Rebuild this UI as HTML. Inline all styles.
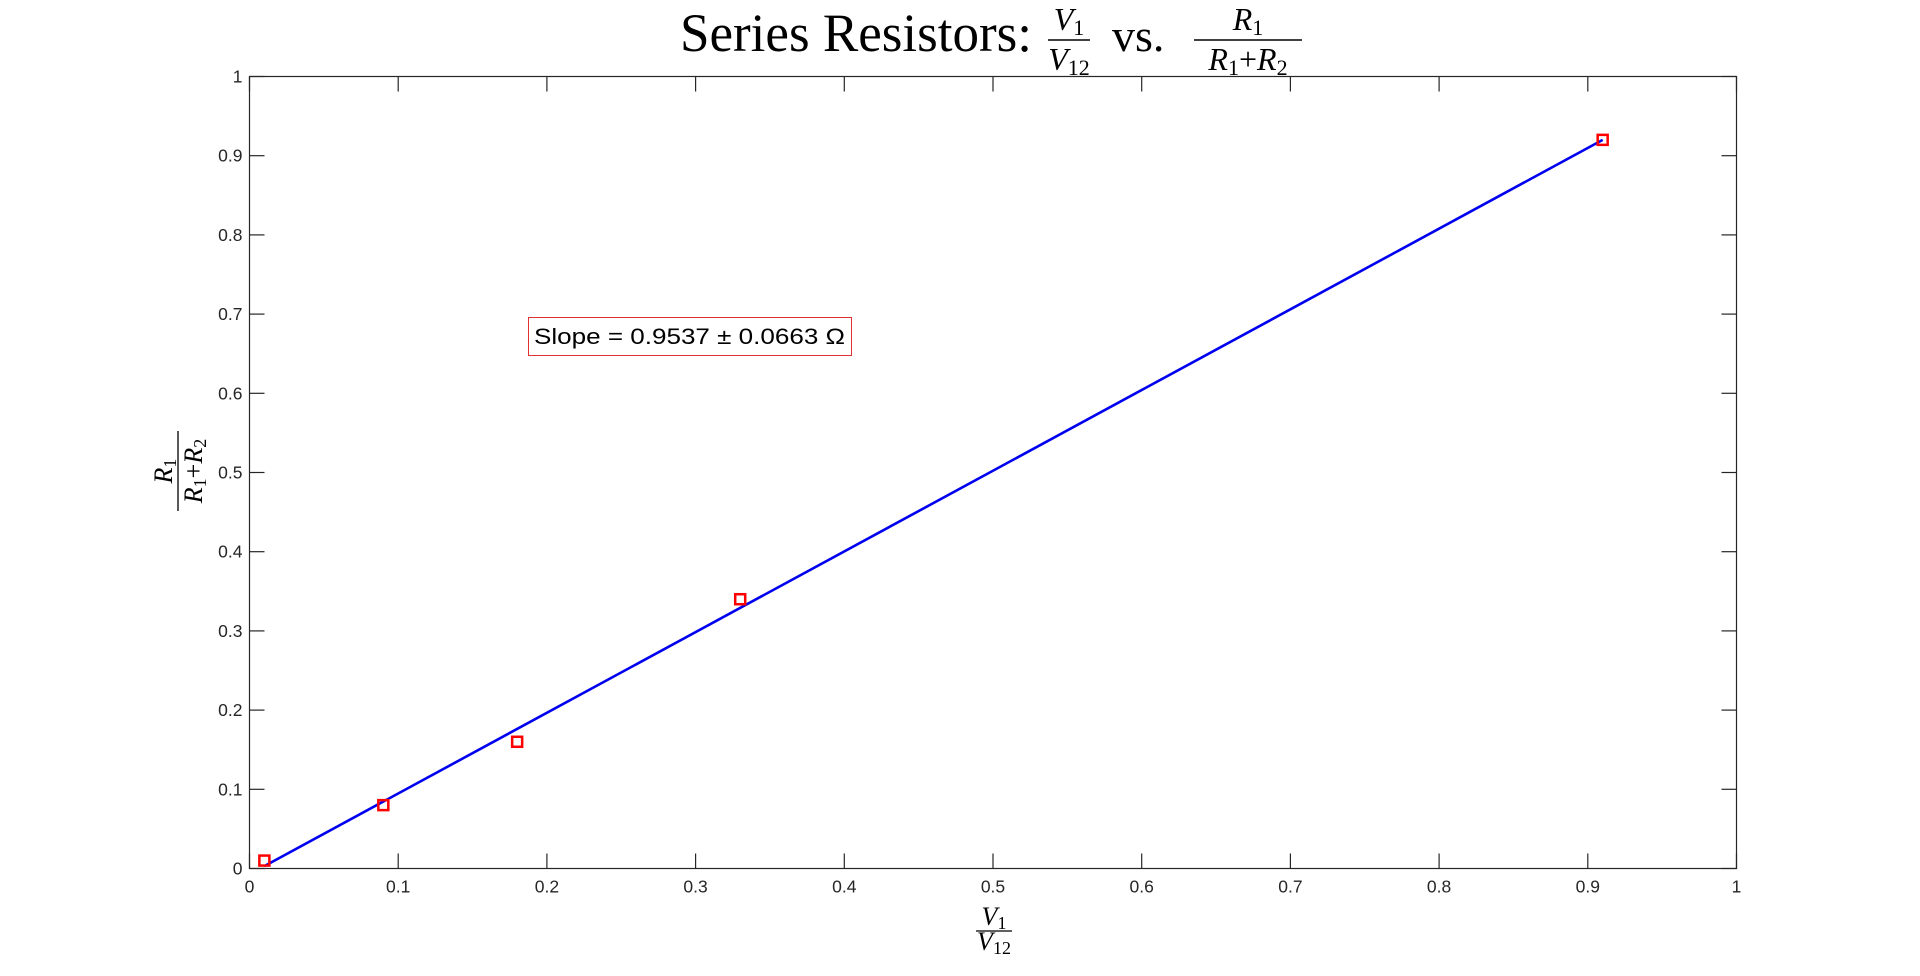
<!DOCTYPE html>
<html><head><meta charset="utf-8"><style>
html,body{margin:0;padding:0;background:#fff;}
svg{display:block;}
</style></head><body>
<svg id="chart" width="1920" height="976" xmlns="http://www.w3.org/2000/svg" font-family="Liberation Sans, sans-serif">
<rect width="1920" height="976" fill="#fff"/>
<g font-family="Liberation Serif, serif" fill="#000">
  <text x="680" y="51" font-size="54" textLength="352" lengthAdjust="spacingAndGlyphs">Series Resistors:</text>
  <text x="1069" y="30" font-size="32" text-anchor="middle" font-style="italic">V<tspan font-style="normal" font-size="22" dy="5">1</tspan></text>
  <line x1="1048" y1="40" x2="1090" y2="40" stroke="#000" stroke-width="1.5"/>
  <text x="1069" y="70" font-size="32" text-anchor="middle" font-style="italic">V<tspan font-style="normal" font-size="22" dy="5">12</tspan></text>
  <text x="1112" y="51" font-size="46">vs.</text>
  <text x="1248" y="30" font-size="32" text-anchor="middle" font-style="italic">R<tspan font-style="normal" font-size="22" dy="5">1</tspan></text>
  <line x1="1194" y1="40" x2="1302" y2="40" stroke="#000" stroke-width="1.5"/>
  <text x="1248" y="70" font-size="32" text-anchor="middle" font-style="italic">R<tspan font-style="normal" font-size="22" dy="5">1</tspan><tspan dy="-5" font-style="normal">+</tspan>R<tspan font-style="normal" font-size="22" dy="5">2</tspan></text>
</g>
<g font-family="Liberation Serif, serif" fill="#000">
  <text x="994" y="925" font-size="26" text-anchor="middle" font-style="italic">V<tspan font-style="normal" font-size="18" dy="4">1</tspan></text>
  <line x1="976" y1="931" x2="1012" y2="931" stroke="#000" stroke-width="1.3"/>
  <text x="994" y="950" font-size="26" text-anchor="middle" font-style="italic">V<tspan font-style="normal" font-size="18" dy="4">12</tspan></text>
</g>
<g font-family="Liberation Serif, serif" fill="#000" transform="translate(180,471) rotate(-90)">
  <text x="0" y="-8" font-size="26" text-anchor="middle" font-style="italic">R<tspan font-style="normal" font-size="18" dy="4">1</tspan></text>
  <line x1="-40" y1="-2" x2="40" y2="-2" stroke="#000" stroke-width="1.3"/>
  <text x="0" y="22" font-size="26" text-anchor="middle" font-style="italic">R<tspan font-style="normal" font-size="18" dy="4">1</tspan><tspan dy="-4" font-style="normal">+</tspan>R<tspan font-style="normal" font-size="18" dy="4">2</tspan></text>
</g>
<g id="axes"></g>
<g id="marks"></g>
<g>
  <rect x="528.5" y="317.5" width="323" height="38" fill="#fff" stroke="#e03030" stroke-width="1"/>
  <text x="534" y="344" font-size="22" fill="#000" textLength="311" lengthAdjust="spacingAndGlyphs">Slope = 0.9537 ± 0.0663 Ω</text>
</g>
</svg>
<script>
const xTicks = [0,0.1,0.2,0.3,0.4,0.5,0.6,0.7,0.8,0.9,1];
const yTicks = [0,0.1,0.2,0.3,0.4,0.5,0.6,0.7,0.8,0.9,1];
const tickLabels = ["0","0.1","0.2","0.3","0.4","0.5","0.6","0.7","0.8","0.9","1"];
const dataX = [0.01,0.09,0.18,0.33,0.91];
const dataY = [0.01,0.08,0.16,0.34,0.92];
const fitX = [0.01,0.91];
const fitY = [0.003,0.92];

const L=249.5,R=1736.5,T=76.5,B=868.5;
const sx=v=>L+v*(R-L);
const sy=v=>B-v*(B-T);
const NS="http://www.w3.org/2000/svg";
function mk(tag,attrs,parent){const e=document.createElementNS(NS,tag);for(const k in attrs)e.setAttribute(k,attrs[k]);parent.appendChild(e);return e;}
const axes=document.getElementById('axes'), marks=document.getElementById('marks');
const frame=mk('rect',{x:L,y:T,width:R-L,height:B-T,fill:'none',stroke:'#262626','stroke-width':1.2},axes);


xTicks.forEach((v,i)=>{
  const x=sx(v);
  const t1=mk('line',{x1:x,y1:B,x2:x,y2:B-15,stroke:'#262626','stroke-width':1.2},axes);
  
  
  const t2=mk('line',{x1:x,y1:T,x2:x,y2:T+15,stroke:'#262626','stroke-width':1.2},axes);
  
  
  const lb=mk('text',{x:x,y:B+24,'font-size':17.5,'text-anchor':'middle',fill:'#262626'},axes);
  lb.textContent=tickLabels[i];
  
  
});
yTicks.forEach((v,i)=>{
  const y=sy(v);
  const t1=mk('line',{x1:L,y1:y,x2:L+15,y2:y,stroke:'#262626','stroke-width':1.2},axes);
  
  
  const t2=mk('line',{x1:R,y1:y,x2:R-15,y2:y,stroke:'#262626','stroke-width':1.2},axes);
  
  
  const lb=mk('text',{x:L-7,y:y+6,'font-size':17.5,'text-anchor':'end',fill:'#262626'},axes);
  lb.textContent=tickLabels[i];
  
  
});
const fit=mk('line',{x1:sx(fitX[0]),y1:sy(fitY[0]),x2:sx(fitX[1]),y2:sy(fitY[1]),stroke:'#0000ee','stroke-width':2.6},marks);


dataX.forEach((v,i)=>{
  const p=mk('rect',{x:sx(v)-5,y:sy(dataY[i])-5,width:10,height:10,fill:'none',stroke:'#ff0000','stroke-width':2.5},marks);
  
  
});
</script>
</body></html>
